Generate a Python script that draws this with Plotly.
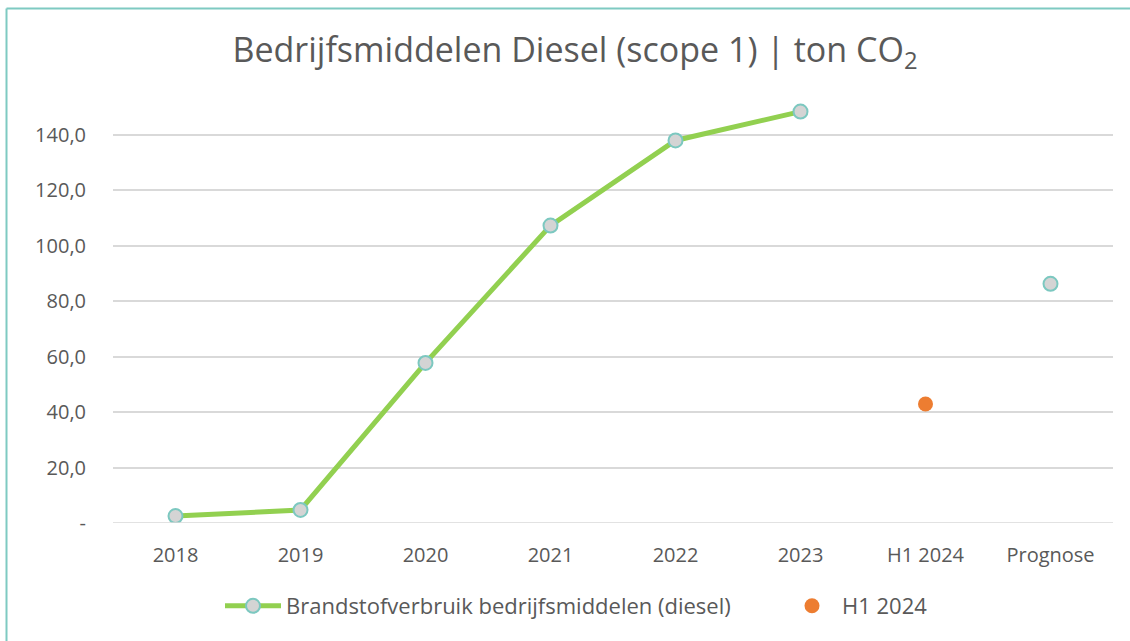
import plotly.graph_objects as go

categories = ["2018", "2019", "2020", "2021", "2022", "2023", "H1 2024", "Prognose"]
diesel = [2.5, 4.7, 57.7, 107.2, 137.9, 148.3, None, 86.2]
h1_2024 = [None, None, None, None, None, None, 42.9, None]
y_ticks = [0, 20, 40, 60, 80, 100, 120, 140]
y_ticktext = ["-", "20,0", "40,0", "60,0", "80,0", "100,0", "120,0", "140,0"]

FONT = "Open Sans"
GREY = "#595959"

fig = go.Figure()
fig.add_trace(go.Scatter(
    x=categories, y=diesel, mode="lines+markers",
    name="Brandstofverbruik bedrijfsmiddelen (diesel)",
    line=dict(color="#92D050", width=5),
    marker=dict(size=14, color="#D4D4D4", line=dict(color="#7CC8C0", width=2)),
    connectgaps=False, legend="legend",
))
fig.add_trace(go.Scatter(
    x=categories, y=h1_2024, mode="markers", name="H1 2024",
    marker=dict(size=15, color="#ED7D31"), legend="legend2",
))

L, R, T, B = 113, 17, 93, 118
W, H = 1130, 641
pw, ph = W - L - R, H - T - B

def px2x(p):
    return (p - L) / pw

def py2y(p):
    return (H - B - p) / ph

legfont = dict(family=FONT, size=22, color=GREY)

fig.update_layout(
    width=W, height=H,
    margin=dict(l=L, r=R, t=T, b=B, autoexpand=False),
    paper_bgcolor="white", plot_bgcolor="white",
    title=dict(text="Bedrijfsmiddelen Diesel (scope 1) | ton CO<sub>2</sub>",
               x=575 / W, xref="container", xanchor="center", y=1 - 50 / H, yref="container",
               yanchor="middle",
               font=dict(family=FONT, size=34, color=GREY)),
    xaxis=dict(type="category", categoryorder="array", categoryarray=categories,
               range=[-0.5, len(categories) - 0.5], automargin=False, tickangle=0,
               showgrid=False, zeroline=False, showline=False,
               ticks="outside", ticklen=14, tickcolor="rgba(0,0,0,0)",
               tickfont=dict(family=FONT, size=20, color=GREY)),
    yaxis=dict(range=[0, 155], tickvals=y_ticks, ticktext=y_ticktext, automargin=False,
               showgrid=True, gridcolor="#D9D9D9", gridwidth=1.5,
               zeroline=False, showline=False,
               ticks="outside", ticklen=22, tickcolor="rgba(0,0,0,0)",
               tickfont=dict(family=FONT, size=20, color=GREY)),
    legend=dict(orientation="h", x=px2x(220), xanchor="left",
                y=py2y(606), yanchor="middle", itemwidth=56, font=legfont),
    legend2=dict(orientation="h", x=px2x(782), xanchor="left",
                 y=py2y(606), yanchor="middle", itemwidth=50, font=legfont),
    showlegend=True,
)

# zero grid line
fig.add_shape(type="line", xref="paper", yref="y", x0=0, x1=1, y0=0, y1=0,
              line=dict(color="#D9D9D9", width=1.5))
# chart border (left + top visible)
fig.add_shape(type="line", xref="paper", yref="paper",
              x0=px2x(6.5), x1=px2x(6.5), y0=py2y(8.5), y1=py2y(645),
              line=dict(color="#7ECAC2", width=2))
fig.add_shape(type="line", xref="paper", yref="paper",
              x0=px2x(6.5), x1=px2x(1135), y0=py2y(8.5), y1=py2y(8.5),
              line=dict(color="#7ECAC2", width=2))

fig.write_html("out.html", post_script="document.body.style.margin='0';",
               config={"displayModeBar": False})
